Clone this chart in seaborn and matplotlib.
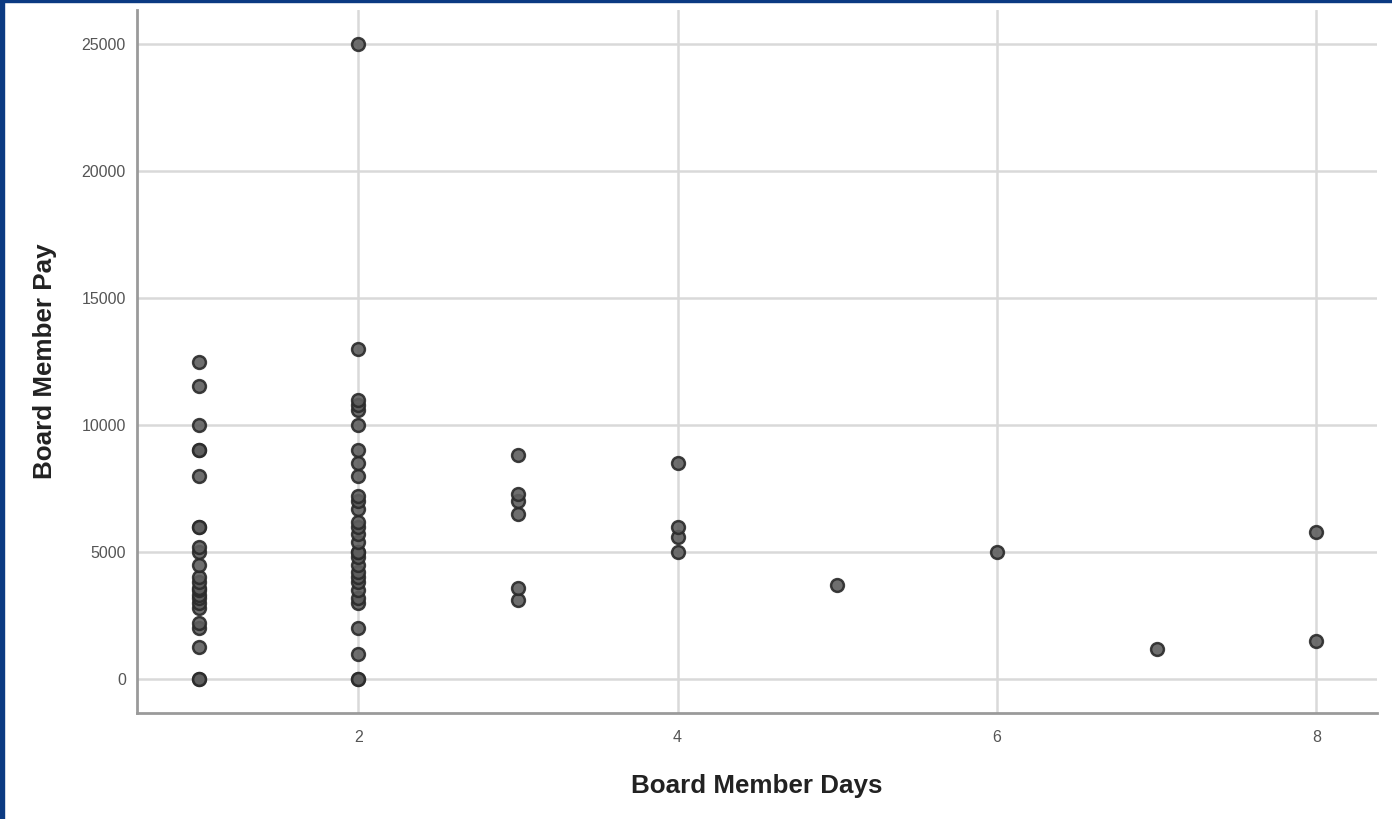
import matplotlib
matplotlib.use("Agg")
import matplotlib.pyplot as plt
import seaborn as sns
import pandas as pd
from matplotlib.patches import Rectangle

# Board member pay grouped by number of board member days
pay_day1 = [0, 0, 1250, 2000, 2200, 2800, 3000, 3200, 3300, 3500, 3600, 3800,
            4000, 4500, 5000, 5200, 6000, 6000, 8000, 9000, 9000, 10000, 11550, 12500]
pay_day2 = [0, 0, 1000, 2000, 3000, 3200, 3500, 3800, 4000, 4200, 4500, 4800,
            5000, 5000, 5400, 5700, 6000, 6200, 6700, 7000, 7200, 8000, 8500,
            9000, 10000, 10600, 10800, 11000, 13000, 25000]
pay_day3 = [3100, 3600, 6500, 7000, 7300, 8800]
pay_day4 = [5000, 5600, 6000, 8500]
pay_day5 = [3700]
pay_day6 = [5000]
pay_day7 = [1200]
pay_day8 = [1500, 5800]

groups = [pay_day1, pay_day2, pay_day3, pay_day4, pay_day5, pay_day6, pay_day7, pay_day8]
days = []
pay = []
for d, vals in enumerate(groups, start=1):
    days.extend([d] * len(vals))
    pay.extend(vals)
df = pd.DataFrame({"Board Member Days": days, "Board Member Pay": pay})

x_ticks = [2, 4, 6, 8]
y_ticks = [0, 5000, 10000, 15000, 20000, 25000]

sns.set_theme(style="white")
plt.rcParams["font.family"] = ["Liberation Sans", "DejaVu Sans"]

fig = plt.figure(figsize=(13.92, 8.19), dpi=100)
ax = fig.add_axes([0.0984, 0.1294, 0.8908, 0.8584])

sns.scatterplot(data=df, x="Board Member Days", y="Board Member Pay", ax=ax,
                s=85, color="#5e5e5e", edgecolor="#2a2a2a", linewidth=1.8,
                alpha=0.9, zorder=3)

ax.set_xlim(0.614, 8.38)
ax.set_ylim(-1339, 26339)
ax.set_xticks(x_ticks)
ax.set_yticks(y_ticks)
ax.set_xticklabels([str(t) for t in x_ticks])
ax.set_yticklabels([str(t) for t in y_ticks])

ax.grid(True, color="#d9d9d9", linewidth=1.8, zorder=0)
ax.set_axisbelow(True)
for side in ["top", "right"]:
    ax.spines[side].set_visible(False)
for side in ["left", "bottom"]:
    ax.spines[side].set_color("#9a9a9a")
    ax.spines[side].set_linewidth(2)

ax.tick_params(axis="both", length=0, labelsize=11.5, labelcolor="#555555")
ax.tick_params(axis="x", pad=12)
ax.tick_params(axis="y", pad=8)

ax.set_xlabel("Board Member Days", fontsize=18.7, fontweight="bold",
              color="#222222", labelpad=21)
ax.set_ylabel("Board Member Pay", fontsize=18.7, fontweight="bold",
              color="#222222")
ax.yaxis.set_label_coords(-0.0645, 0.5)

# thin navy frame along the top and left edges of the canvas
fig.patches.append(Rectangle((0, 0), 0.003, 1, transform=fig.transFigure,
                             color="#0b3a82", zorder=10))
fig.patches.append(Rectangle((0, 0.997), 1, 0.003, transform=fig.transFigure,
                             color="#0b3a82", zorder=10))

fig.savefig("out.png", dpi=100)
